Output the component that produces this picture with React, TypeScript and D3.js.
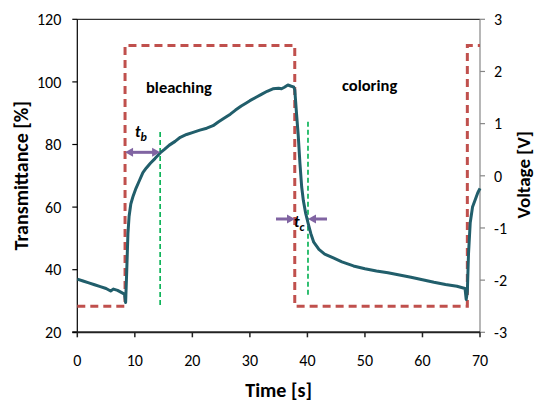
import React from 'react';
import * as d3 from 'd3';

// transmittance trace (time in s, transmittance in %)
const timeS = [
  0, 1, 2, 3, 4, 5, 5.8, 6.3, 7, 7.8, 8.2, 8.4, 8.6, 8.8, 9.0, 9.3, 9.7, 10.2, 10.8, 11.4,
  12, 12.7, 13.5, 14.4, 15.2, 16, 17, 17.9, 19, 20, 21.3, 22.5, 23.6, 24.5, 25.5, 26.6, 27.5,
  28.5, 29.3, 30, 31, 32, 33, 34, 35, 35.5, 36, 36.6, 37.2, 37.6, 37.8, 38.1, 38.4, 38.7, 39,
  39.3, 39.7, 40.1, 40.6, 41.1, 42, 43, 44.6, 46, 48, 50, 52, 54, 56, 58, 60, 62, 64, 66,
  67.4, 67.6, 67.8, 68, 68.3, 68.7, 69.2, 69.6, 70,
];
const transmittance = [
  37, 36.4, 35.8, 35.2, 34.6, 34.0, 33.2, 33.8, 33.4, 32.6, 32.2, 29.5, 40, 51.5, 57, 61, 63.5,
  66, 68.5, 71, 72.5, 74, 75.5, 77.3, 78.5, 79.8, 81, 82.3, 83.2, 83.8, 84.6, 85.2, 86, 87.2,
  88.4, 89.7, 91, 92.3, 93.2, 94, 95, 96, 97, 97.8, 98, 97.8, 98.3, 99, 98.6, 98.4, 97.5, 90,
  83, 74, 66.5, 62, 58, 55, 51.5, 48.8, 46.5, 45, 43.7, 42.5, 41.2, 40.3, 39.6, 39, 38.3, 37.6,
  36.8, 36, 35.3, 34.7, 34, 30.5, 33, 45, 55, 60, 62.5, 64.5, 66,
];

// applied voltage square wave (step after)
const voltTimes = [0, 8.3, 37.8, 67.8, 70];
const voltValues = [-2.5, 2.5, -2.5, 2.5, 2.5];

const xTicks = [0, 10, 20, 30, 40, 50, 60, 70];
const yTicks = [20, 40, 60, 80, 100, 120];
const vTicks = [-3, -2, -1, 0, 1, 2, 3];

// response time markers
const tbMarker = { from: 8.3, to: 14.4, level: 77.5, lineTop: 84, lineBottom: 28.2 };
const tcMarker = { at: 40.1, level: 56.2, lineTop: 87.3, lineBottom: 31 };

const W = 535, H = 402;
const left = 77.3, right = 480, top = 19.3, bottom = 332.3;
const font = 'Carlito, Lato, "Open Sans", sans-serif';

export default function App() {
  const x = d3.scaleLinear().domain([0, 70]).range([left, right]);
  const y = d3.scaleLinear().domain([20, 120]).range([bottom, top]);
  const yv = d3.scaleLinear().domain([-3, 3]).range([bottom, top]);

  const tLine = d3.line<number>()
    .x((d, i) => x(timeS[i]))
    .y(d => y(d))
    .curve(d3.curveLinear)(transmittance) as string;

  const vLine = d3.line<number>()
    .x((d, i) => x(voltTimes[i]))
    .y(d => yv(d))
    .curve(d3.curveStepAfter)(voltValues) as string;

  const purple = '#8064a2';
  const green = '#00b050';

  const arrowHead = (tipX: number, yy: number, dir: number) =>
    `M${tipX},${yy} L${tipX - dir * 8},${yy - 4.5} L${tipX - dir * 8},${yy + 4.5} Z`;

  const tbY = y(tbMarker.level);
  const tcY = y(tcMarker.level);
  const tbL = x(tbMarker.from), tbR = x(tbMarker.to);
  const tcX = x(tcMarker.at);

  return (
    <svg width={W} height={H} style={{ position: 'absolute', left: 0, top: 0, background: '#fff' }}>
      {/* frame */}
      <line x1={left} x2={right} y1={top} y2={top} stroke="#000" strokeWidth={1} />
      <line x1={right} x2={right} y1={top} y2={bottom} stroke="#868686" strokeWidth={1.2} />
      <line x1={left} x2={left} y1={top} y2={bottom} stroke="#000" strokeWidth={1.2} />
      <line x1={left - 5} x2={right} y1={bottom} y2={bottom} stroke="#222" strokeWidth={2} />

      {/* left ticks */}
      {yTicks.map(t => (
        <g key={'y' + t}>
          <line x1={left - 5} x2={left} y1={y(t)} y2={y(t)} stroke="#000" strokeWidth={1.2} />
          <text x={left - 16} y={y(t)} dy="0.36em" textAnchor="end" fontFamily={font} fontSize={16}>{t}</text>
        </g>
      ))}
      {/* right ticks */}
      {vTicks.map(t => (
        <g key={'v' + t}>
          <line x1={right} x2={right + 5} y1={yv(t)} y2={yv(t)} stroke="#868686" strokeWidth={1.2} />
          <text x={right + 14} y={yv(t)} dy="0.36em" textAnchor="start" fontFamily={font} fontSize={16}>{t}</text>
        </g>
      ))}
      {/* bottom ticks */}
      {xTicks.map(t => (
        <g key={'x' + t}>
          <line x1={x(t)} x2={x(t)} y1={bottom} y2={bottom + 5} stroke="#222" strokeWidth={1.5} />
          <text x={x(t)} y={360} dy="0.36em" textAnchor="middle" fontFamily={font} fontSize={16}>{t}</text>
        </g>
      ))}

      {/* axis titles */}
      <text x={278.6} y={397} textAnchor="middle" fontFamily={font} fontWeight="bold" fontSize={20}>Time [s]</text>
      <text transform={`translate(28,${(top + bottom) / 2}) rotate(-90)`} textAnchor="middle"
        fontFamily={font} fontWeight="bold" fontSize={20}>Transmittance [%]</text>
      <text transform={`translate(530,${(top + bottom) / 2 - 1}) rotate(-90)`} textAnchor="middle"
        fontFamily={font} fontWeight="bold" fontSize={19}>Voltage [V]</text>

      {/* green markers */}
      <line x1={tbR} x2={tbR} y1={y(tbMarker.lineTop)} y2={y(tbMarker.lineBottom)} stroke={green}
        strokeWidth={1.6} strokeDasharray="5,3" />
      <line x1={tcX} x2={tcX} y1={y(tcMarker.lineTop)} y2={y(tcMarker.lineBottom)} stroke={green}
        strokeWidth={1.6} strokeDasharray="5,3" />

      {/* voltage */}
      <path d={vLine} fill="none" stroke="#c0504d" strokeWidth={3} strokeDasharray="8,5" />

      {/* transmittance */}
      <path d={tLine} fill="none" stroke="#215e6b" strokeWidth={3} strokeLinejoin="round" />

      {/* t_b arrow */}
      <line x1={tbL + 6} x2={tbR - 6} y1={tbY} y2={tbY} stroke={purple} strokeWidth={3} />
      <path d={arrowHead(tbL, tbY, -1)} fill={purple} />
      <path d={arrowHead(tbR, tbY, 1)} fill={purple} />
      {/* t_c arrows */}
      <line x1={tcX - 32} x2={tcX - 19} y1={tcY} y2={tcY} stroke={purple} strokeWidth={3} />
      <path d={arrowHead(tcX - 13, tcY, 1)} fill={purple} />
      <line x1={tcX + 6} x2={tcX + 19} y1={tcY} y2={tcY} stroke={purple} strokeWidth={3} />
      <path d={arrowHead(tcX, tcY, -1)} fill={purple} />

      {/* labels */}
      <text x={135} y={137} fontFamily={font} fontWeight="bold" fontStyle="italic" fontSize={16}>
        t<tspan fontSize={12} dy={4}>b</tspan>
      </text>
      <text x={294} y={227} fontFamily={font} fontWeight="bold" fontStyle="italic" fontSize={16}>
        t<tspan fontSize={12} dy={4}>c</tspan>
      </text>
      <text x={146} y={93} fontFamily={font} fontWeight="bold" fontSize={16.5}>bleaching</text>
      <text x={342} y={91} fontFamily={font} fontWeight="bold" fontSize={16.5}>coloring</text>
    </svg>
  );
}
